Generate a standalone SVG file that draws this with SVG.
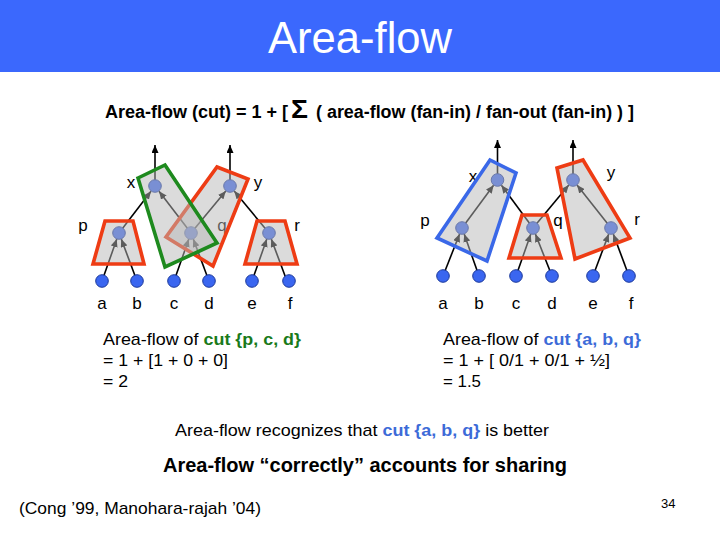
<svg xmlns="http://www.w3.org/2000/svg" width="720" height="540" viewBox="0 0 720 540">
<defs>
<style>
text{font-family:"Liberation Sans",Arial,sans-serif;fill:#000}
.lbl{font-size:17px;text-anchor:middle}
.node{fill:#3a66f0;stroke:#1d3a9a;stroke-width:1}
.edge{stroke:#000;stroke-width:1.6;fill:none;marker-end:url(#ah)}
.cut{fill:#b8b8b8;fill-opacity:0.5;stroke-width:3.6;stroke-linejoin:miter}
.red{stroke:#ee3c14}
.green{stroke:#1e8a1e}
.blue{stroke:#3a68e8}
.txt{font-size:17px}
.b{font-weight:bold}
.gt{fill:#1a7a1a;font-weight:bold}
.bt{fill:#3d6bd8;font-weight:bold}
</style>
<marker id="ah" markerWidth="8" markerHeight="7" refX="8" refY="3.5" orient="auto" markerUnits="userSpaceOnUse"><path d="M0,0 L8,3.5 L0,7 z" fill="#000"/></marker>
</defs>
<rect x="0" y="0" width="720" height="540" fill="#fff"/>
<rect x="0" y="0" width="720" height="72" fill="#3b68fd"/>
<text x="268" y="53" font-size="44" fill="#fff" style="fill:#fff" textLength="184" lengthAdjust="spacingAndGlyphs">Area-flow</text>

<text x="105" y="118" font-size="18" class="b" textLength="183" lengthAdjust="spacingAndGlyphs">Area-flow (cut) = 1 + [</text>
<text x="291" y="118" font-size="26" class="b" textLength="17" lengthAdjust="spacingAndGlyphs">Σ</text>
<text x="316" y="118" font-size="18" class="b" textLength="318" lengthAdjust="spacingAndGlyphs">( area-flow (fan-in) / fan-out (fan-in) ) ]</text>

<g id="connectors">
<line class="edge" x1="102" y1="281" x2="116.8" y2="239.1"/>
<line class="edge" x1="137" y1="281" x2="121.3" y2="239.1"/>
<line class="edge" x1="174" y1="281" x2="188.8" y2="239.1"/>
<line class="edge" x1="209" y1="281" x2="193.3" y2="239.1"/>
<line class="edge" x1="252" y1="281" x2="266.8" y2="239.1"/>
<line class="edge" x1="287" y1="281" x2="271.3" y2="239.1"/>
<line class="edge" x1="119" y1="233" x2="151" y2="191.2"/>
<line class="edge" x1="191" y1="233" x2="159" y2="191.2"/>
<line class="edge" x1="191" y1="233" x2="225.8" y2="191"/>
<line class="edge" x1="269" y1="233" x2="234.2" y2="191"/>
<line class="edge" x1="155" y1="180" x2="155" y2="145"/>
<line class="edge" x1="230" y1="180" x2="230" y2="145"/>

<line class="edge" x1="443" y1="276" x2="459.6" y2="234"/>
<line class="edge" x1="479" y1="276" x2="464.2" y2="234.1"/>
<line class="edge" x1="516" y1="276" x2="530.8" y2="234.1"/>
<line class="edge" x1="552" y1="276" x2="535.4" y2="234"/>
<line class="edge" x1="593" y1="276" x2="608.7" y2="234.1"/>
<line class="edge" x1="629" y1="276" x2="613.3" y2="234.1"/>
<line class="edge" x1="462" y1="228" x2="493.6" y2="185.2"/>
<line class="edge" x1="533" y1="228" x2="501.4" y2="185.2"/>
<line class="edge" x1="533" y1="228" x2="568.8" y2="185"/>
<line class="edge" x1="611" y1="228" x2="577" y2="185.1"/>
<line class="edge" x1="497.5" y1="174" x2="497.5" y2="140"/>
<line class="edge" x1="573" y1="174" x2="573" y2="140"/>
</g>

<!-- left tree nodes -->
<g id="L-x"><circle class="node" cx="155" cy="186" r="6.3"/><text class="lbl" x="131" y="188">x</text></g>
<g id="L-y"><circle class="node" cx="230" cy="186" r="6.3"/><text class="lbl" x="258" y="188">y</text></g>
<g id="L-p"><circle class="node" cx="119" cy="233" r="6.3"/><text class="lbl" x="83" y="231">p</text></g>
<g id="L-q"><circle class="node" cx="191" cy="233" r="6.3"/><text class="lbl" x="222" y="231">q</text></g>
<g id="L-r"><circle class="node" cx="269" cy="233" r="6.3"/><text class="lbl" x="297" y="231">r</text></g>
<g id="L-a"><circle class="node" cx="102" cy="281" r="6.3"/><text class="lbl" x="102" y="309">a</text></g>
<g id="L-b"><circle class="node" cx="137" cy="281" r="6.3"/><text class="lbl" x="137" y="309">b</text></g>
<g id="L-c"><circle class="node" cx="174" cy="281" r="6.3"/><text class="lbl" x="174" y="309">c</text></g>
<g id="L-d"><circle class="node" cx="209" cy="281" r="6.3"/><text class="lbl" x="209" y="309">d</text></g>
<g id="L-e"><circle class="node" cx="252" cy="281" r="6.3"/><text class="lbl" x="252" y="309">e</text></g>
<g id="L-f"><circle class="node" cx="289" cy="281" r="6.3"/><text class="lbl" x="290" y="309">f</text></g>

<!-- right tree nodes -->
<g id="R-x"><circle class="node" cx="497.5" cy="180" r="6.3"/><text class="lbl" x="473" y="182">x</text></g>
<g id="R-y"><circle class="node" cx="573" cy="180" r="6.3"/><text class="lbl" x="611" y="178">y</text></g>
<g id="R-p"><circle class="node" cx="462" cy="228" r="6.3"/><text class="lbl" x="425" y="226">p</text></g>
<g id="R-q"><circle class="node" cx="533" cy="228" r="6.3"/><text class="lbl" x="558" y="226">q</text></g>
<g id="R-r"><circle class="node" cx="611" cy="228" r="6.3"/><text class="lbl" x="637" y="225">r</text></g>
<g id="R-a"><circle class="node" cx="443" cy="276" r="6.3"/><text class="lbl" x="443" y="309">a</text></g>
<g id="R-b"><circle class="node" cx="479" cy="276" r="6.3"/><text class="lbl" x="479" y="309">b</text></g>
<g id="R-c"><circle class="node" cx="516" cy="276" r="6.3"/><text class="lbl" x="516" y="309">c</text></g>
<g id="R-d"><circle class="node" cx="552" cy="276" r="6.3"/><text class="lbl" x="552" y="309">d</text></g>
<g id="R-e"><circle class="node" cx="593" cy="276" r="6.3"/><text class="lbl" x="593" y="309">e</text></g>
<g id="R-f"><circle class="node" cx="629" cy="276" r="6.3"/><text class="lbl" x="631" y="309">f</text></g>

<!-- cuts left -->
<g id="L-cut-p"><polygon class="cut red" points="105,221 133,221 144,264 93,264"/></g>
<g id="L-cut-r"><polygon class="cut red" points="257,221 285,221 297,264 245,264"/></g>
<g id="L-cut-y"><polygon class="cut red" points="217,167 248,179 213,266 166,237"/></g>
<g id="L-cut-x"><polygon class="cut green" points="138,178 165,165 217,243 165,267"/></g>

<!-- cuts right -->
<g id="R-cut-x"><polygon class="cut blue" points="437,238 490,160 516,173 487,261"/></g>
<g id="R-cut-q"><polygon class="cut red" points="522,215 547,215 561,258 509,258"/></g>
<g id="R-cut-y"><polygon class="cut red" points="557,168 583,160 630,238 575,259"/></g>

<text class="txt" x="103" y="345" textLength="198" lengthAdjust="spacingAndGlyphs">Area-flow of <tspan class="gt">cut {p, c, d}</tspan></text>
<text class="txt" x="103" y="366" textLength="125" lengthAdjust="spacingAndGlyphs">= 1 + [1 + 0 + 0]</text>
<text class="txt" x="103" y="387" textLength="25" lengthAdjust="spacingAndGlyphs">= 2</text>

<text class="txt" x="443" y="345" textLength="198" lengthAdjust="spacingAndGlyphs">Area-flow of <tspan class="bt">cut {a, b, q}</tspan></text>
<text class="txt" x="443" y="366" textLength="167" lengthAdjust="spacingAndGlyphs">= 1 + [ 0/1 + 0/1 + ½]</text>
<text class="txt" x="443" y="387" textLength="38" lengthAdjust="spacingAndGlyphs">= 1.5</text>

<text class="txt" x="175" y="436" textLength="374" lengthAdjust="spacingAndGlyphs">Area-flow recognizes that <tspan class="bt">cut {a, b, q}</tspan> is better</text>
<text class="b" x="163" y="472" font-size="20" textLength="404" lengthAdjust="spacingAndGlyphs">Area-flow “correctly” accounts for sharing</text>
<text class="txt" x="19" y="514" textLength="242" lengthAdjust="spacingAndGlyphs">(Cong ’99, Manohara-rajah ’04)</text>
<text x="661" y="508" font-size="13">34</text>
</svg>
